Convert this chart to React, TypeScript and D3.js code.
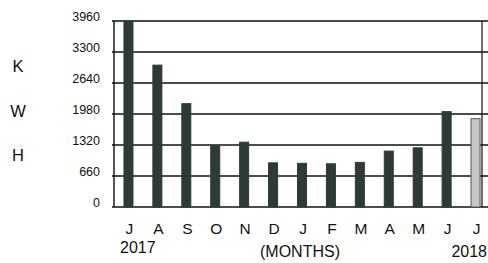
import React from "react";
import * as d3 from "d3";

const months = ["J", "A", "S", "O", "N", "D", "J", "F", "M", "A", "M", "J", "J"];
const kwh = [3960, 3020, 2200, 1300, 1380, 940, 930, 920, 950, 1190, 1260, 2030, 1880];
const highlight = [false, false, false, false, false, false, false, false, false, false, false, false, true];
const yTicks = [0, 660, 1320, 1980, 2640, 3300, 3960];
const unitLetters = ["K", "W", "H"];

const W = 488;
const H = 263;

export default function App() {
  const x = d3
    .scaleBand<number>()
    .domain(months.map((_, i) => i))
    .range([114, 490])
    .padding(0);
  const y = d3.scaleLinear().domain([0, 3960]).range([207, 21]);
  const barW = 9;
  const font = "'Liberation Sans', Arial, sans-serif";
  const barColor = "#2d3a36";

  return (
    <div style={{ position: "fixed", left: 0, top: 0 }}>
      <svg width={W} height={H} style={{ display: "block", background: "#fff" }} fontFamily={font}>
        {yTicks.map((t) => (
          <line key={"g" + t} x1={112} x2={W} y1={y(t)} y2={y(t)} stroke="#111" strokeWidth={1.4} />
        ))}
        <line x1={114} x2={114} y1={y(3960)} y2={y(0)} stroke="#111" strokeWidth={1.4} />
        <line x1={482} x2={482} y1={y(3960)} y2={y(0)} stroke="#111" strokeWidth={1.2} />
        {kwh.map((v, i) => {
          const cx = (x(i) as number) + x.bandwidth() / 2;
          return (
            <rect
              key={"b" + i}
              x={cx - barW / 2}
              y={y(v)}
              width={barW}
              height={y(0) - y(v)}
              fill={highlight[i] ? "#c8c8c8" : barColor}
              stroke={highlight[i] ? "#555" : barColor}
              strokeWidth={1}
            />
          );
        })}
        {yTicks.map((t) => (
          <text key={"t" + t} x={100} y={y(t) - 3} textAnchor="end" dominantBaseline="middle" fontSize={12.5} fill="#111">
            {t}
          </text>
        ))}
        {unitLetters.map((l, i) => (
          <text key={"u" + i} x={18} y={[68, 113, 157][i]} textAnchor="middle" dominantBaseline="middle" fontSize={16.5} fill="#111">
            {l}
          </text>
        ))}
        {months.map((m, i) => {
          const cx = (x(i) as number) + x.bandwidth() / 2;
          return (
            <text key={"m" + i} x={cx + 1} y={233.5} textAnchor="middle" fontSize={15.5} fill="#111">
              {m}
            </text>
          );
        })}
        <text x={120} y={252.5} fontSize={16} fill="#111">2017</text>
        <text x={300} y={256.5} textAnchor="middle" fontSize={16} fill="#111">(MONTHS)</text>
        <text x={487} y={256.5} textAnchor="end" fontSize={16} fill="#111">2018</text>
      </svg>
    </div>
  );
}
